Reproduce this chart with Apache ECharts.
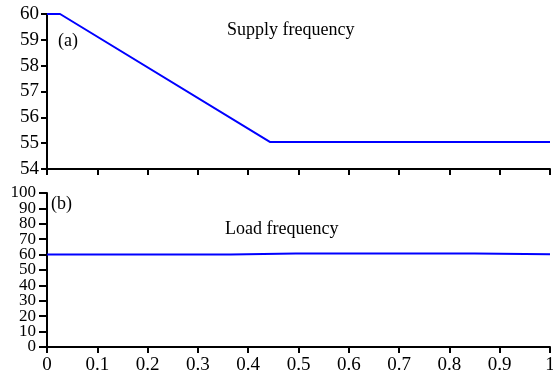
<!DOCTYPE html>
<html>
<head>
<meta charset="utf-8">
<script src="https://cdn.jsdelivr.net/npm/echarts@6/dist/echarts.min.js"></script>
<style>html,body{margin:0;padding:0;background:#fff;}#c{width:553px;height:372px;}</style>
</head>
<body>
<div id="c"></div>
<script>
const supplyT = [0, 0.026, 0.443, 1];
const supplyF = [60, 60, 55.05, 55.05];
const loadT = [0, 0.365, 0.495, 0.85, 1];
const loadF = [60, 60, 60.7, 60.7, 60.2];
const xTicks = ['0','0.1','0.2','0.3','0.4','0.5','0.6','0.7','0.8','0.9','1'];
const panelTitles = ['Supply frequency', 'Load frequency'];
const panelTags = ['(a)', '(b)'];

const FONT = '"Liberation Serif", "Times New Roman", serif';
const chart = echarts.init(document.getElementById('c'), null, {renderer: 'canvas'});
const axisLine = {lineStyle: {color: '#000', width: 2}};
const axisTick = {length: 6, lineStyle: {color: '#000', width: 2}};
const loadLabel = {fontFamily: FONT, fontSize: 17, color: '#000', margin: 11};
chart.setOption({
  animation: false,
  backgroundColor: '#fff',
  grid: [
    {left: 47, right: 3, top: 14, height: 155, outerBoundsMode: 'none', containLabel: false},
    {left: 47, right: 3, top: 193, height: 154, outerBoundsMode: 'none', containLabel: false}
  ],
  xAxis: [
    {type: 'value', gridIndex: 0, min: 0, max: 1, interval: 0.1,
     axisLine: axisLine, axisTick: axisTick, axisLabel: {show: false}, splitLine: {show: false}},
    {type: 'value', gridIndex: 1, min: 0, max: 1, interval: 0.1,
     axisLine: axisLine, axisTick: axisTick, splitLine: {show: false},
     axisLabel: {fontFamily: FONT, fontSize: 19, color: '#000', margin: 9,
       showMinLabel: true, showMaxLabel: true,
       formatter: v => xTicks[Math.round(v * 10)]}}
  ],
  yAxis: [
    {type: 'value', gridIndex: 0, min: 54, max: 60, interval: 1, position: 'left',
     axisLine: {show: true, lineStyle: {color: '#000', width: 2}}, axisTick: {show: true, length: 6, lineStyle: {color: '#000', width: 2}},
     splitLine: {show: false},
     axisLabel: {fontFamily: FONT, fontSize: 19, color: '#000', margin: 8,
       showMinLabel: true, showMaxLabel: true}},
    {type: 'value', gridIndex: 1, min: 0, max: 100, interval: 10, position: 'left',
     axisLine: {show: true, lineStyle: {color: '#000', width: 2}}, axisTick: {show: true, length: 8, lineStyle: {color: '#000', width: 2}},
     splitLine: {show: false},
     axisLabel: Object.assign({showMinLabel: false, showMaxLabel: false}, loadLabel)},
    {type: 'value', gridIndex: 1, min: 0, max: 100, interval: 100, position: 'left',
     axisLine: {show: false}, axisTick: {show: true, length: 8, lineStyle: {color: '#000', width: 2}},
     splitLine: {show: false},
     axisLabel: Object.assign({showMinLabel: true, showMaxLabel: true}, loadLabel)}
  ],
  series: [
    {type: 'line', xAxisIndex: 0, yAxisIndex: 0, showSymbol: false, symbol: 'none',
     lineStyle: {color: '#0000ff', width: 2}, data: supplyT.map((t, i) => [t, supplyF[i]])},
    {type: 'line', xAxisIndex: 1, yAxisIndex: 1, showSymbol: false, symbol: 'none',
     lineStyle: {color: '#0000ff', width: 2}, data: loadT.map((t, i) => [t, loadF[i]])}
  ],
  graphic: [
    {type: 'text', left: 227, top: 21, style: {text: panelTitles[0], font: '18px ' + FONT, fill: '#000'}},
    {type: 'text', left: 225, top: 220, style: {text: panelTitles[1], font: '18px ' + FONT, fill: '#000'}},
    {type: 'text', left: 58, top: 32, style: {text: panelTags[0], font: '18px ' + FONT, fill: '#000'}},
    {type: 'text', left: 51, top: 195, style: {text: panelTags[1], font: '18px ' + FONT, fill: '#000'}}
  ]
});
</script>
</body>
</html>
